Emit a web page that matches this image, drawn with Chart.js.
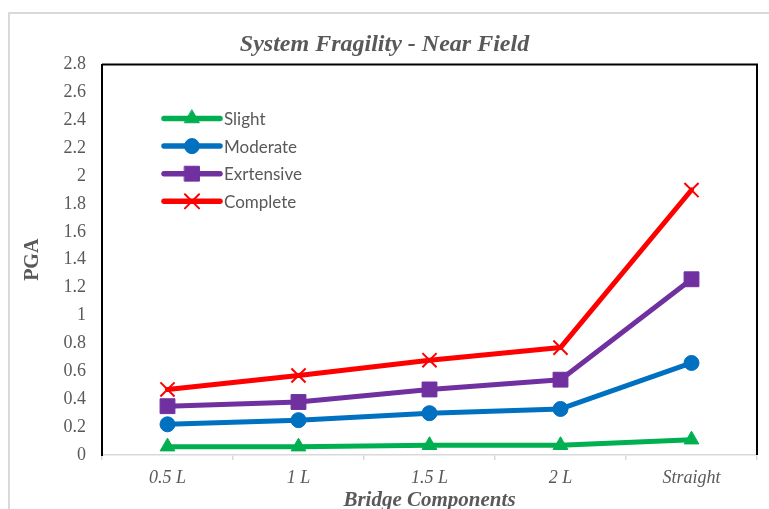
<!DOCTYPE html>
<html>
<head>
<meta charset="utf-8">
<script src="https://cdn.jsdelivr.net/npm/chart.js@4.4.1/dist/chart.umd.min.js"></script>
<style>
  html, body { margin: 0; padding: 0; background: #ffffff; }
  #wrap { width: 769px; height: 509px; position: relative; }
</style>
</head>
<body>
<div id="wrap"><canvas id="c" width="769" height="509"></canvas></div>
<script>
// Damage-state PGA values for each bridge configuration
const categories = ['0.5 L', '1 L', '1.5 L', '2 L', 'Straight'];
const slight     = [0.06, 0.06, 0.07, 0.07, 0.11];
const moderate   = [0.22, 0.25, 0.30, 0.33, 0.66];
const extensive  = [0.35, 0.38, 0.47, 0.54, 1.26];
const complete   = [0.47, 0.57, 0.68, 0.77, 1.90];
const seriesNames = ['Slight', 'Moderate', 'Exrtensive', 'Complete'];
const yTickValues = [0, 0.2, 0.4, 0.6, 0.8, 1, 1.2, 1.4, 1.6, 1.8, 2, 2.2, 2.4, 2.6, 2.8];

const titleText = 'System Fragility - Near Field';
const textGrey = '#595959';
const serif = '"Liberation Serif", "Times New Roman", serif';

function series(label, data, color, style, radius, extra) {
  return Object.assign({
    label: label,
    data: data,
    borderColor: color,
    backgroundColor: color,
    pointBackgroundColor: color,
    pointBorderColor: color,
    borderWidth: 5,
    borderCapStyle: 'round',
    borderJoinStyle: 'round',
    tension: 0,
    pointStyle: style,
    pointRadius: radius,
    pointHoverRadius: radius,
    pointBorderWidth: 1
  }, extra || {});
}

// Outer frame, plot frame, chart title and the in-plot legend
const decor = {
  id: 'decor',
  beforeDraw(chart) {
    const ctx = chart.ctx;
    ctx.save();
    ctx.fillStyle = '#ffffff';
    ctx.fillRect(0, 0, chart.width, chart.height);
    ctx.strokeStyle = '#d9d9d9';
    ctx.lineWidth = 2;
    ctx.strokeRect(9, 13, chart.width + 20, chart.height + 20);
    ctx.restore();
  },
  afterDatasetsDraw(chart) {
    const ctx = chart.ctx;
    const a = chart.chartArea;
    ctx.save();
    // black frame on top and right of the plot
    ctx.strokeStyle = '#000000';
    ctx.lineWidth = 2;
    ctx.beginPath();
    ctx.moveTo(a.left, a.top);
    ctx.lineTo(a.right, a.top);
    ctx.lineTo(a.right, a.bottom);
    ctx.stroke();

    // title
    ctx.fillStyle = textGrey;
    ctx.font = 'italic bold 24px ' + serif;
    ctx.textAlign = 'center';
    ctx.textBaseline = 'alphabetic';
    ctx.fillText(titleText, chart.width / 2, 51);

    // legend
    const lx0 = a.left + 62, lx1 = a.left + 118, ly0 = a.top + 54, step = 27.6;
    chart.data.datasets.forEach((ds, i) => {
      const y = ly0 + i * step;
      ctx.strokeStyle = ds.borderColor;
      ctx.lineWidth = 5.5;
      ctx.lineCap = 'round';
      ctx.beginPath();
      ctx.moveTo(lx0, y);
      ctx.lineTo(lx1, y);
      ctx.stroke();
      ctx.fillStyle = ds.pointBackgroundColor;
      ctx.strokeStyle = ds.pointBorderColor;
      ctx.lineWidth = ds.pointBorderWidth;
      Chart.helpers.drawPoint(ctx, {
        pointStyle: ds.pointStyle,
        radius: ds.pointRadius,
        rotation: 0,
        borderWidth: ds.pointBorderWidth
      }, (lx0 + lx1) / 2, y);
      ctx.fillStyle = textGrey;
      ctx.font = '17px Lato, "Noto Sans", sans-serif';
      ctx.textAlign = 'left';
      ctx.textBaseline = 'middle';
      ctx.fillText(ds.label, lx1 + 4, y + 1);
    });
    ctx.restore();
  }
};

new Chart(document.getElementById('c'), {
  type: 'line',
  data: {
    labels: categories,
    datasets: [
      series(seriesNames[0], slight,    '#00B050', 'triangle', 8.5),
      series(seriesNames[1], moderate,  '#0070C0', 'circle', 7.5),
      series(seriesNames[2], extensive, '#7030A0', 'rect', 10.5),
      series(seriesNames[3], complete,  '#FF0000', 'crossRot', 10, { pointBorderWidth: 2 })
    ]
  },
  options: {
    responsive: false,
    animation: false,
    devicePixelRatio: 1,
    layout: { padding: { left: 0, top: 64.5, right: 11, bottom: 0 } },
    plugins: {
      legend: { display: false },
      title: { display: false },
      tooltip: { enabled: false }
    },
    scales: {
      x: {
        type: 'category',
        offset: true,
        grid: {
          offset: true,
          drawOnChartArea: false,
          drawTicks: true,
          tickLength: 5,
          color: '#d9d9d9',
          lineWidth: 1.5
        },
        border: { display: true, color: '#d9d9d9', width: 1.5 },
        ticks: {
          color: textGrey,
          font: { family: serif, size: 18, style: 'italic' },
          padding: 7,
          maxRotation: 0,
          autoSkip: false
        },
        title: {
          display: true,
          text: 'Bridge Components',
          color: textGrey,
          font: { family: serif, size: 21, style: 'italic', weight: 'bold', lineHeight: 0.9 },
          padding: { top: 0, bottom: -1 }
        },
        afterFit(scale) { scale.height = 54; }
      },
      y: {
        min: 0,
        max: 2.8,
        grid: { display: false, drawTicks: false },
        border: { display: true, color: '#000000', width: 2 },
        afterBuildTicks(scale) { scale.ticks = yTickValues.map(v => ({ value: v })); },
        ticks: {
          color: textGrey,
          font: { family: serif, size: 18 },
          padding: 16,
          callback: v => String(+Number(v).toFixed(1))
        },
        title: {
          display: true,
          text: 'PGA',
          color: textGrey,
          font: { family: serif, size: 20, weight: 'bold' },
          padding: { top: 21, bottom: 0 }
        },
        afterFit(scale) { scale.width = 102; }
      }
    }
  },
  plugins: [decor]
});
</script>
</body>
</html>
